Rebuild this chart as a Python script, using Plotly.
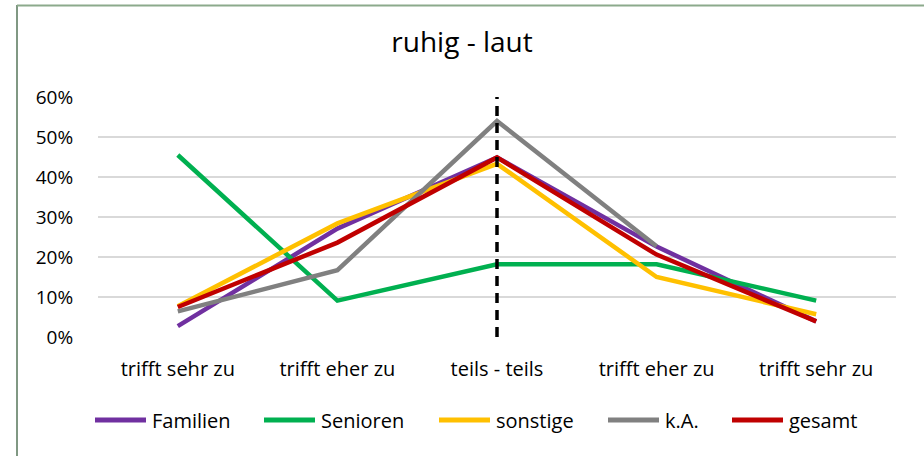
import plotly.graph_objects as go

categories = ["trifft sehr zu", "trifft eher zu", "teils - teils", "trifft eher zu", "trifft sehr zu"]
familien = [0.027, 0.271, 0.449, 0.226, 0.039]
senioren = [0.455, 0.091, 0.182, 0.182, 0.091]
sonstige = [0.077, 0.284, 0.433, 0.150, 0.057]
ka = [0.064, 0.167, 0.540, 0.227, None]
gesamt = [0.075, 0.236, 0.449, 0.206, 0.039]

series = [
    ("Familien", familien, "#7030A0"),
    ("Senioren", senioren, "#00B050"),
    ("sonstige", sonstige, "#FFC000"),
    ("k.A.", ka, "#808080"),
    ("gesamt", gesamt, "#C00000"),
]

xpos = list(range(len(categories)))
FONT = "Open Sans, sans-serif"

fig = go.Figure()
for name, vals, color in series:
    fig.add_trace(go.Scatter(
        x=xpos, y=vals, name=name, mode="lines", showlegend=False,
        line=dict(color=color, width=4.5), connectgaps=False,
    ))

W, H = 924, 456
ml, mr, mt, mb = 98, 28, 97, 119
pw, ph = W - ml - mr, H - mt - mb

def px(sx):
    return (sx - ml) / pw

def py(sy):
    return (H - mb - sy) / ph

# vertical dashed separator at the middle category
fig.add_shape(type="line", xref="x", yref="y", x0=2, x1=2, y0=0, y1=0.6,
              line=dict(color="black", width=3.5, dash="10px,7px"))

# chart frame (left and top edges visible)
fig.add_shape(type="line", xref="paper", yref="paper",
              x0=px(17), x1=px(17), y0=py(5), y1=py(H + 5),
              line=dict(color="#56765A", width=1.5))
fig.add_shape(type="line", xref="paper", yref="paper",
              x0=px(17), x1=px(W + 5), y0=py(5.5), y1=py(5.5),
              line=dict(color="#8CAA8C", width=2))

# custom legend
leg_starts = [93, 262, 437, 606, 730]
leg_y = 420
for (name, vals, color), sx in zip(series, leg_starts):
    fig.add_shape(type="line", xref="paper", yref="paper",
                  x0=px(sx + 2), x1=px(sx + 53), y0=py(leg_y), y1=py(leg_y),
                  line=dict(color=color, width=5))
    fig.add_annotation(xref="paper", yref="paper", x=px(sx + 57), y=py(leg_y),
                       xanchor="left", yanchor="middle", text=name, showarrow=False,
                       font=dict(family=FONT, size=20, color="#000000"))

fig.update_layout(
    width=W, height=H,
    margin=dict(l=ml, r=mr, t=mt, b=mb),
    paper_bgcolor="white", plot_bgcolor="white",
    font=dict(family=FONT, size=19, color="#000000"),
    title=dict(text="ruhig - laut", x=0.5, xanchor="center", y=1 - 42 / H, yanchor="middle",
               font=dict(family=FONT, size=28, color="#000000")),
    xaxis=dict(tickvals=xpos, ticktext=categories, range=[-0.5, 4.5],
               showgrid=False, zeroline=False, showline=False,
               ticks="outside", ticklen=14, tickcolor="rgba(0,0,0,0)",
               tickfont=dict(family=FONT, size=20)),
    yaxis=dict(range=[0, 0.6], tickvals=[0, 0.1, 0.2, 0.3, 0.4, 0.5, 0.6],
               tickformat=".0%", showgrid=True, gridcolor="#D9D9D9", gridwidth=1.5,
               zeroline=False, showline=False,
               ticks="outside", ticklen=20, tickcolor="rgba(0,0,0,0)",
               tickfont=dict(family=FONT, size=19)),
    showlegend=False,
)

fig.write_html("out.html", config={"displayModeBar": False},
               post_script="document.body.style.margin='0';")
